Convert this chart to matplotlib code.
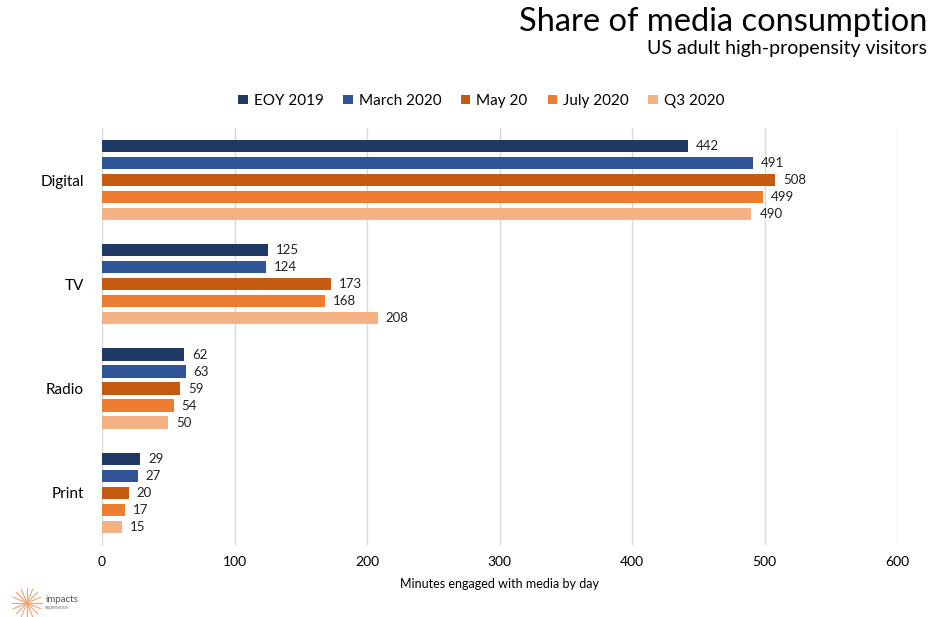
import numpy as np
import matplotlib.pyplot as plt

plt.rcParams['font.family'] = ['Lato', 'DejaVu Sans']

categories = ['Digital', 'TV', 'Radio', 'Print']
series = ['EOY 2019', 'March 2020', 'May 20', 'July 2020', 'Q3 2020']
eoy_2019 = [442, 125, 62, 29]
march_2020 = [491, 124, 63, 27]
may_20 = [508, 173, 59, 20]
july_2020 = [499, 168, 54, 17]
q3_2020 = [490, 208, 50, 15]
values = [eoy_2019, march_2020, may_20, july_2020, q3_2020]
colors = ['#1F3864', '#2F5597', '#C55A11', '#ED7D31', '#F4B183']

fig = plt.figure(figsize=(9.3, 6.17), dpi=100)
ax = fig.add_axes([0.1097, 0.1167, 0.855, 0.676])

y = np.arange(len(categories))
step = 0.163
bar_h = 0.118
for i, (name, vals, c) in enumerate(zip(series, values, colors)):
    pos = y + (i - 2) * step
    ax.barh(pos, vals, height=bar_h, color=c, label=name, zorder=3)
    for p, v in zip(pos, vals):
        ax.text(v + 6, p, str(v), va='center', ha='left', fontsize=9.5, color='#222222')

ax.set_xlim(0, 600)
ax.set_ylim(3.5, -0.5)
ax.set_yticks(y)
ax.set_yticklabels(categories, fontsize=11)
ax.set_xticks([0, 100, 200, 300, 400, 500, 600])
ax.tick_params(axis='x', labelsize=10, length=0, pad=8)
ax.tick_params(axis='y', length=0, pad=13)
ax.grid(axis='x', color='#D9D9D9', linewidth=1, zorder=0)
for s in ['top', 'right', 'bottom']:
    ax.spines[s].set_visible(False)
ax.spines['left'].set_color('#D9D9D9')
ax.set_xlabel('Minutes engaged with media by day', fontsize=9, labelpad=7)

ax.legend(loc='center', bbox_to_anchor=(0.477, 1.065), ncol=5, frameon=False,
          fontsize=11, handlelength=0.6, handleheight=0.6, handletextpad=0.4,
          columnspacing=1.3)

fig.text(0.997, 0.965, 'Share of media consumption', ha='right', va='center', fontsize=23.5)
fig.text(0.997, 0.922, 'US adult high-propensity visitors', ha='right', va='center', fontsize=14)

# logo
cx, cy = 27 / 930, 1 - 603 / 617
for a in np.linspace(0, np.pi * 2, 16, endpoint=False):
    r = 0.024
    fig.add_artist(plt.Line2D([cx, cx + r * np.cos(a) * 617 / 930], [cy, cy + r * np.sin(a)],
                              color='#F6A26B', linewidth=0.8, transform=fig.transFigure))
fig.text(45 / 930, 1 - 599 / 617, 'impacts', fontsize=7, color='#555555', va='center')
fig.text(45 / 930, 1 - 607 / 617, 'experience', fontsize=3.5, color='#777777', va='center')

fig.savefig('out.png', dpi=100)
